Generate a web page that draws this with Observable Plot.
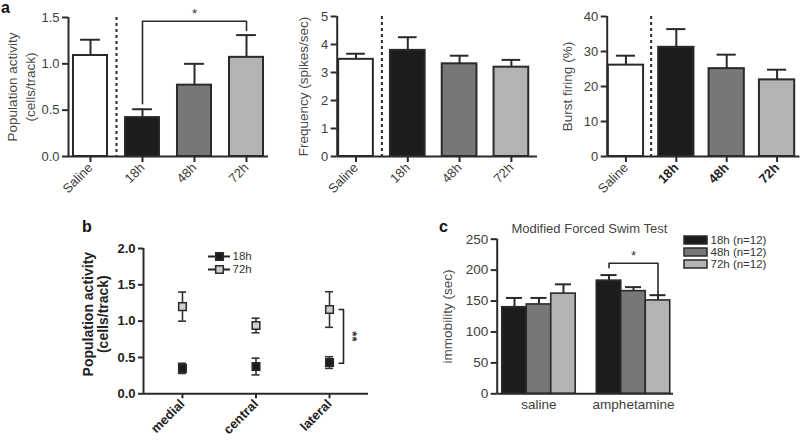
<!DOCTYPE html>
<html><head><meta charset="utf-8">
<script src="https://cdn.jsdelivr.net/npm/d3@7"></script>
<script src="https://cdn.jsdelivr.net/npm/@observablehq/plot@0.6"></script>
<style>
body{margin:0;background:#fff;}
#fig{position:relative;width:800px;height:444px;overflow:hidden;font-family:"Liberation Sans",Arial,Helvetica,sans-serif;background:#fff;}
#fig > *{position:absolute;}
.plabel{font-weight:bold;font-size:16px;line-height:16px;color:#111;}
</style></head><body><div id="fig"></div><script>
// ---------- data ----------
const groupsA = ["Saline", "18h", "48h", "72h"];
const activityMean = [1.09, 0.42, 0.77, 1.07];
const activityErr  = [0.17, 0.09, 0.23, 0.24];
const freqMean = [3.47, 3.79, 3.31, 3.19];
const freqErr  = [0.20, 0.47, 0.29, 0.26];
const burstMean = [26.1, 31.2, 25.1, 21.9];
const burstErr  = [2.7, 5.2, 4.0, 2.9];
const barFillsA = ["#ffffff", "#1c1c1c", "#777777", "#b3b3b3"];
const dividerAt = 0.5; // between Saline and the treatment groups
const ticksActivity = [0, 0.5, 1.0, 1.5];
const ticksFreq = [0, 1, 2, 3, 4, 5];
const ticksBurst = [0, 10, 20, 30, 40];
const sigActivity = {from: 1, to: 3, lowFrom: 0.57, lowTo: 1.36, top: 1.46, label: "*"};

const regions = ["medial", "central", "lateral"];
const bSeries = ["18h", "72h"];
const b18Mean = [0.35, 0.375, 0.43];
const b18Err  = [0.07, 0.115, 0.08];
const b72Mean = [1.20, 0.94, 1.16];
const b72Err  = [0.20, 0.10, 0.245];
const bFills = ["#1a1a1a", "#cdcdcd"];
const ticksB = [0, 0.5, 1.0, 1.5, 2.0];
const sigB = {at: 2, high: 1.16, low: 0.42, label: "**"};

const conditions = ["saline", "amphetamine"];
const cSeries = ["18h (n=12)", "48h (n=12)", "72h (n=12)"];
const cSalineMean = [140, 144.5, 162];
const cSalineErr  = [15, 10.5, 15];
const cAmphMean = [183, 166, 151];
const cAmphErr  = [9, 6.5, 8.5];
const cFills = ["#1c1c1c", "#777777", "#b3b3b3"];
const ticksC = [0, 50, 100, 150, 200, 250];
const sigC = {group: 1, from: 0, to: 2, lowFrom: 204, lowTo: 160, top: 211, label: "*"};

// ---------- helpers ----------
const FONT = '"Liberation Sans", Arial, Helvetica, sans-serif';
const INK = "#2a2a2a";
const TXT = "#3d3d3d";
const fig = document.getElementById("fig");
function add(node, left, top) {
  node.style.left = left + "px";
  node.style.top = top + "px";
  fig.appendChild(node);
}
function letter(t, left, top) {
  const d = document.createElement("div");
  d.className = "plabel"; d.textContent = t;
  add(d, left, top);
}
const svgStyle = {background: "transparent", fontFamily: FONT, overflow: "visible"};

// ---------- panel a ----------
function barPanel(cfg) {
  const rows = groupsA.map((g, i) => ({g, i, m: cfg.means[i], e: cfg.errs[i], fill: barFillsA[i]}));
  const marks = [
    Plot.ruleX([dividerAt], {stroke: INK, strokeWidth: 2, strokeDasharray: "3,3"}),
    Plot.rectY(rows, {x1: d => d.i - cfg.hw, x2: d => d.i + cfg.hw, y1: 0, y2: "m", fill: "fill", stroke: INK, strokeWidth: 2}),
    Plot.ruleX(rows, {x: "i", y1: "m", y2: d => d.m + d.e, stroke: INK, strokeWidth: 2}),
    Plot.ruleY(rows, {y: d => d.m + d.e, x1: d => d.i - cfg.cap, x2: d => d.i + cfg.cap, stroke: INK, strokeWidth: 2}),
    Plot.ruleY([0], {stroke: INK, strokeWidth: 2}),
    Plot.ruleX([cfg.xDomain[0]], {stroke: INK, strokeWidth: 2}),
    Plot.axisY({ticks: cfg.yTicks, tickFormat: cfg.yFormat, tickSize: 6, tickPadding: 3, stroke: INK, strokeWidth: 2, fill: TXT, fontSize: 13, label: null}),
    Plot.text([cfg.label], {frameAnchor: "left", textAnchor: "middle", rotate: -90, dx: cfg.labelDx, fontSize: 13.5, lineHeight: 1.35, fill: "#4a4a4a"})
  ];
  if (cfg.boldTreat) {
    marks.push(Plot.axisX({ticks: [0], tickFormat: i => groupsA[i], tickRotate: -45, tickSize: 6, tickPadding: 3, stroke: INK, strokeWidth: 2, fill: TXT, fontSize: 13, label: null}));
    marks.push(Plot.axisX({ticks: [1, 2, 3], tickFormat: i => groupsA[i], tickRotate: -45, tickSize: 6, tickPadding: 3, stroke: INK, strokeWidth: 2, fill: "#222", fontSize: 13, fontWeight: "bold", label: null}));
  } else {
    marks.push(Plot.axisX({ticks: [0, 1, 2, 3], tickFormat: i => groupsA[i], tickRotate: -45, tickSize: 6, tickPadding: 3, stroke: INK, strokeWidth: 2, fill: TXT, fontSize: 13, label: null}));
  }
  if (cfg.sig) {
    const s = cfg.sig;
    const pts = [{x: s.from, y: s.lowFrom}, {x: s.from, y: s.top}, {x: s.to, y: s.top}, {x: s.to, y: s.lowTo}];
    marks.push(Plot.line(pts, {x: "x", y: "y", stroke: INK, strokeWidth: 1.6}));
    marks.push(Plot.text([s.label], {x: (s.from + s.to) / 2, y: s.top, dy: -7, fontSize: 13, fill: "#333"}));
  }
  return Plot.plot({
    width: cfg.width, height: 220,
    marginLeft: cfg.mL, marginRight: cfg.mR, marginTop: cfg.mT, marginBottom: 64,
    x: {domain: cfg.xDomain},
    y: {domain: [cfg.yTicks[0], cfg.yTicks[cfg.yTicks.length - 1]]},
    color: {type: "identity"},
    style: svgStyle,
    marks
  });
}

add(barPanel({width: 270, mL: 68, mR: 2, mT: 17, xDomain: [-0.423, 3.423], hw: 0.327, cap: 0.19,
  means: activityMean, errs: activityErr, yTicks: ticksActivity, yFormat: d3.format(".1f"),
  label: "Population activity\n(cells/track)", labelDx: -48, sig: sigActivity}), 0, 0);
add(barPanel({width: 270, mL: 66.7, mR: 3, mT: 16, xDomain: [-0.363, 3.504], hw: 0.335, cap: 0.18,
  means: freqMean, errs: freqErr, yTicks: ticksFreq, yFormat: d3.format("d"),
  label: "Frequency (spikes/sec)", labelDx: -35}), 270, 0);
add(barPanel({width: 270, mL: 76.7, mR: 0.5, mT: 16, xDomain: [-0.372, 3.455], hw: 0.35, cap: 0.19,
  means: burstMean, errs: burstErr, yTicks: ticksBurst, yFormat: d3.format("d"),
  label: "Burst firing (%)", labelDx: -41, boldTreat: true}), 530, 0);

// ---------- panel b ----------
{
  const pts = [];
  regions.forEach((r, i) => {
    pts.push({s: bSeries[0], i, m: b18Mean[i], e: b18Err[i], fill: bFills[0]});
    pts.push({s: bSeries[1], i, m: b72Mean[i], e: b72Err[i], fill: bFills[1]});
  });
  const capB = 0.055;
  const xDom = [-0.53, 2.53];
  const bx = sigB.at + 0.19, bl = sigB.at + 0.13;
  const bracket = [{x: bl, y: sigB.high}, {x: bx, y: sigB.high}, {x: bx, y: sigB.low}, {x: bl, y: sigB.low}];
  add(Plot.plot({
    width: 400, height: 224,
    marginLeft: 143, marginRight: 32, marginTop: 28, marginBottom: 50.7,
    x: {domain: xDom},
    y: {domain: [0, 2]},
    color: {type: "identity"},
    style: svgStyle,
    marks: [
      Plot.ruleX(pts, {x: "i", y1: d => d.m - d.e, y2: d => d.m + d.e, stroke: "#333", strokeWidth: 1.6}),
      Plot.ruleY(pts, {y: d => d.m + d.e, x1: d => d.i - capB, x2: d => d.i + capB, stroke: "#333", strokeWidth: 1.6}),
      Plot.ruleY(pts, {y: d => d.m - d.e, x1: d => d.i - capB, x2: d => d.i + capB, stroke: "#333", strokeWidth: 1.6}),
      Plot.dot(pts, {x: "i", y: "m", symbol: "square", r: 4.3, fill: "fill", stroke: "#2a2a2a", strokeWidth: 1.5}),
      Plot.line(bracket, {x: "x", y: "y", stroke: "#222", strokeWidth: 1.6}),
      Plot.text([sigB.label], {x: sigB.at + 0.31, y: (sigB.high + sigB.low) / 2, rotate: 90, fontSize: 13, fontWeight: "bold", fill: "#333"}),
      Plot.ruleY([0], {stroke: INK, strokeWidth: 2}),
      Plot.ruleX([xDom[0]], {stroke: INK, strokeWidth: 2}),
      Plot.axisY({ticks: ticksB, tickFormat: d3.format(".1f"), tickSize: 5, tickPadding: 3, stroke: INK, strokeWidth: 2, fill: "#222", fontSize: 13, fontWeight: "bold", label: null}),
      Plot.axisX({ticks: [0, 1, 2], tickFormat: i => regions[i], tickRotate: -45, tickSize: 5, tickPadding: 3, stroke: INK, strokeWidth: 2, fill: "#222", fontSize: 13, fontWeight: "bold", label: null}),
      Plot.text(["Population activity\n(cells/track)"], {frameAnchor: "left", textAnchor: "middle", rotate: -90, dx: -48, dy: -7, fontSize: 14, lineHeight: 1.05, fontWeight: "bold", fill: "#222"})
    ]
  }), 0, 220);

  // legend b
  add(Plot.plot({
    width: 60, height: 28, margin: 0,
    x: {domain: [0, 60], range: [0, 60], axis: null},
    y: {type: "point", domain: bSeries, range: [8, 21], padding: 0, axis: null},
    color: {type: "identity"},
    style: svgStyle,
    marks: [
      Plot.ruleY(bSeries, {y: d => d, x1: 8, x2: 30, stroke: "#222", strokeWidth: 2}),
      Plot.dot(bSeries, {x: 19, y: d => d, symbol: "square", r: 4.3, fill: (d, i) => bFills[i], stroke: "#2a2a2a", strokeWidth: 1.5}),
      Plot.text(bSeries, {x: 32, y: d => d, text: d => d, textAnchor: "start", fontSize: 11.5, fill: "#333"})
    ]
  }), 200, 248);
}

// ---------- panel c ----------
{
  const step = 0.259;
  const pos = (g, s) => g + (s - 1) * step;
  const rows = [];
  conditions.forEach((c, g) => cSeries.forEach((s, k) => rows.push({
    g, k, x: pos(g, k), m: g === 0 ? cSalineMean[k] : cAmphMean[k], e: g === 0 ? cSalineErr[k] : cAmphErr[k], fill: cFills[k]
  })));
  const xDom = [-0.442, 1.423];
  const cap = 0.085;
  const s = sigC;
  const br = [{x: pos(s.group, s.from), y: s.lowFrom}, {x: pos(s.group, s.from), y: s.top}, {x: pos(s.group, s.to), y: s.top}, {x: pos(s.group, s.to), y: s.lowTo}];
  add(Plot.plot({
    width: 400, height: 224,
    marginLeft: 96.7, marginRight: 127, marginTop: 18.7, marginBottom: 50.7,
    x: {domain: xDom},
    y: {domain: [0, 250]},
    color: {type: "identity"},
    style: svgStyle,
    marks: [
      Plot.ruleX(rows, {x: "x", y1: "m", y2: d => d.m + d.e, stroke: INK, strokeWidth: 2}),
      Plot.ruleY(rows, {y: d => d.m + d.e, x1: d => d.x - cap, x2: d => d.x + cap, stroke: INK, strokeWidth: 2}),
      Plot.rectY(rows, {x1: d => d.x - step / 2, x2: d => d.x + step / 2, y1: 0, y2: "m", fill: "fill", stroke: INK, strokeWidth: 1.6}),
      Plot.line(br, {x: "x", y: "y", stroke: INK, strokeWidth: 1.6}),
      Plot.text([s.label], {x: pos(s.group, 1), y: s.top, dy: -7, fontSize: 13, fill: "#333"}),
      Plot.ruleY([0], {stroke: INK, strokeWidth: 2}),
      Plot.ruleX([xDom[0]], {stroke: INK, strokeWidth: 2}),
      Plot.axisY({ticks: ticksC, tickFormat: d3.format("d"), tickSize: 6, tickPadding: 3, stroke: INK, strokeWidth: 2, fill: TXT, fontSize: 13.5, label: null}),
      Plot.axisX({ticks: [0, 1], tickFormat: i => conditions[i], tickSize: 0, tickPadding: 6, fill: TXT, fontSize: 13.5, label: null}),
      Plot.text(["immobility (sec)"], {frameAnchor: "left", textAnchor: "middle", rotate: -90, dx: -50, fontSize: 13.5, fill: "#4a4a4a"}),
      Plot.text(["Modified Forced Swim Test"], {frameAnchor: "top", lineAnchor: "middle", dx: 4, dy: -10, fontSize: 13, fill: "#444"})
    ]
  }), 400, 220);

  // legend c
  add(Plot.plot({
    width: 110, height: 40, margin: 0,
    x: {domain: [0, 110], range: [0, 110], axis: null},
    y: {type: "band", domain: cSeries, range: [4, 36.7], paddingInner: 0.35, paddingOuter: 0, axis: null},
    color: {type: "identity"},
    style: svgStyle,
    marks: [
      Plot.barX(cSeries, {y: d => d, x1: 4, x2: 27, fill: (d, i) => cFills[i], stroke: INK, strokeWidth: 1.5}),
      Plot.text(cSeries, {x: 30, y: d => d, text: d => d, textAnchor: "start", fontSize: 11.5, fill: "#333"})
    ]
  }), 680, 232);
}

letter("a", 1, 0);
letter("b", 82, 219);
letter("c", 439, 219);
</script></body></html>
